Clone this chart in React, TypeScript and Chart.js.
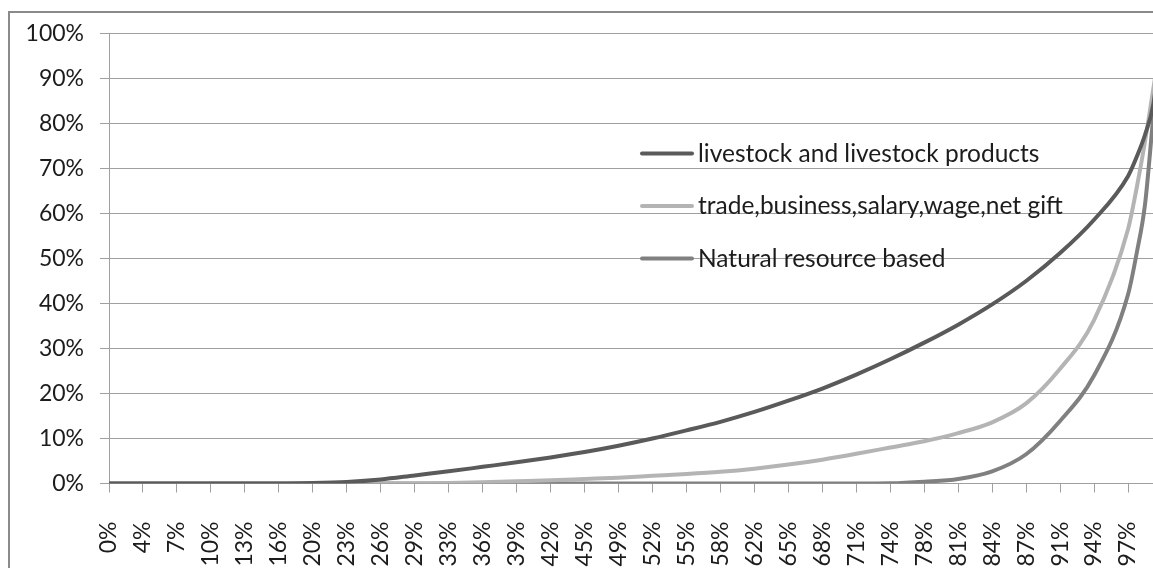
import React, { useEffect, useRef } from "react";
import { Chart, registerables } from "chart.js";

Chart.register(...registerables);

// ---- data ----
// tick labels visible on the category axis (one per tick mark)
const categories = [
  "0%", "4%", "7%", "10%", "13%", "16%", "20%", "23%", "26%", "29%", "33%",
  "36%", "39%", "42%", "45%", "49%", "52%", "55%", "58%", "62%", "65%", "68%",
  "71%", "74%", "78%", "81%", "84%", "87%", "91%", "94%", "97%",
];

// position of every sample, in tick units (0 = "0%", 30 = "97%", 31 = end of the axis)
const samplePositions = [
  0, 1, 2, 3, 4, 5, 6, 7, 8, 9, 10, 11, 12, 13, 14, 15, 16, 17, 18, 19, 20,
  21, 22, 23, 24, 25, 26, 27, 28, 29, 30, 30.25, 30.5, 30.75, 31,
];

const livestock = [
  0, 0, 0, 0, 0, 0, 0.1, 0.35, 0.9, 1.8, 2.7, 3.7, 4.7, 5.8, 7.0, 8.4, 10.0,
  11.8, 13.7, 15.9, 18.4, 21.1, 24.2, 27.6, 31.3, 35.3, 39.8, 45.0, 51.2, 58.6,
  68.3, 72.5, 77.5, 84.5, 100,
];

const trade = [
  0, 0, 0, 0, 0, 0, 0, 0, 0, 0, 0.1, 0.3, 0.5, 0.7, 1.0, 1.3, 1.7, 2.1, 2.6,
  3.3, 4.2, 5.3, 6.6, 8.0, 9.4, 11.2, 13.6, 17.8, 25.5, 36.3, 56.5, 65.5, 76.0,
  88.0, 100,
];

const natural = [
  0, 0, 0, 0, 0, 0, 0, 0, 0, 0, 0, 0, 0, 0, 0, 0, 0, 0, 0, 0, 0, 0, 0, 0.05,
  0.4, 1.0, 2.7, 6.5, 13.9, 24.0, 42.0, 51.0, 62.0, 82.0, 100,
];

const seriesNames = [
  "livestock and livestock products",
  "trade,business,salary,wage,net gift",
  "Natural resource based",
];
const seriesColors = ["#5a5a5a", "#b4b4b4", "#808080"];

const yMin = 0;
const yMax = 100;
const yStep = 10;

// ---- legend drawn inside the plot area ----
const innerLegend = {
  id: "innerLegend",
  afterDraw(chart: any) {
    const { ctx, chartArea } = chart;
    const x0 = chartArea.left + 531;
    const baseline0 = chartArea.top + 128;
    const rowGap = 52.5;
    ctx.save();
    ctx.font = "24.5px Lato";
    ctx.textBaseline = "alphabetic";
    ctx.textAlign = "left";
    seriesNames.forEach((name, i) => {
      const by = baseline0 + i * rowGap;
      ctx.strokeStyle = seriesColors[i];
      ctx.lineWidth = 4;
      ctx.lineCap = "round";
      ctx.beginPath();
      ctx.moveTo(x0 + 2, by - 8);
      ctx.lineTo(x0 + 52, by - 8);
      ctx.stroke();
      ctx.fillStyle = "#1c1c1c";
      ctx.fillText(name, x0 + 58, by);
    });
    ctx.restore();
  },
};

export default function App() {
  const canvasRef = useRef<HTMLCanvasElement | null>(null);

  useEffect(() => {
    const canvas = canvasRef.current;
    if (!canvas) return;
    const series = [livestock, trade, natural];
    const chart = new Chart(canvas, {
      type: "line",
      data: {
        datasets: seriesNames.map((name, i) => ({
          label: name,
          data: samplePositions.map((x, k) => ({ x, y: series[i][k] })),
          borderColor: seriesColors[i],
          backgroundColor: seriesColors[i],
          borderWidth: 4,
          pointRadius: 0,
          pointHoverRadius: 0,
          fill: false,
          cubicInterpolationMode: "monotone" as const,
        })),
      },
      options: {
        responsive: false,
        animation: false,
        devicePixelRatio: 1,
        layout: { padding: { left: 0, top: 20.5, right: 28, bottom: 0 } },
        plugins: {
          legend: { display: false },
          tooltip: { enabled: false },
        },
        scales: {
          x: {
            type: "linear",
            min: 0,
            max: samplePositions[samplePositions.length - 1],
            grid: {
              display: true,
              drawOnChartArea: false,
              drawTicks: true,
              tickLength: 9,
              color: "#a0a0a0",
              lineWidth: 1,
            },
            border: { display: true, color: "#a0a0a0", width: 1 },
            ticks: {
              autoSkip: false,
              maxRotation: 90,
              minRotation: 90,
              padding: 29,
              color: "#1c1c1c",
              font: { family: "Lato", size: 23 },
              callback: (v: any) => categories[Math.round(Number(v))] ?? "",
            },
            afterBuildTicks(scale: any) {
              scale.ticks = categories.map((_, i) => ({ value: i }));
            },
            afterFit(scale: any) {
              scale.height = 89.5;
              scale.paddingLeft = 0;
              scale.paddingRight = 0;
            },
          },
          y: {
            type: "linear",
            min: yMin,
            max: yMax,
            grid: {
              color: "#a0a0a0",
              lineWidth: 1,
              drawTicks: true,
              tickLength: 9,
            },
            border: { display: true, color: "#a0a0a0", width: 1 },
            ticks: {
              stepSize: yStep,
              padding: 16,
              color: "#1c1c1c",
              font: { family: "Lato", size: 23 },
              callback: (v: any) => `${v}%`,
            },
            afterFit(scale: any) {
              scale.width = 99;
              scale.paddingTop = 0;
              scale.paddingBottom = 0;
            },
          },
        },
      },
      plugins: [innerLegend],
    });
    return () => chart.destroy();
  }, []);

  return (
    <div
      style={{
        position: "fixed",
        left: 0,
        top: 0,
        width: 1153,
        height: 568,
        overflow: "hidden",
        background: "#ffffff",
      }}
    >
      <div
        style={{
          position: "absolute",
          left: 8,
          top: 11,
          width: 1200,
          height: 620,
          border: "2px solid #8a8a8a",
          background: "#ffffff",
        }}
      >
        <canvas
          ref={canvasRef}
          width={1180}
          height={560}
          style={{ position: "absolute", left: 0, top: 0, width: 1180, height: 560 }}
        />
      </div>
    </div>
  );
}
